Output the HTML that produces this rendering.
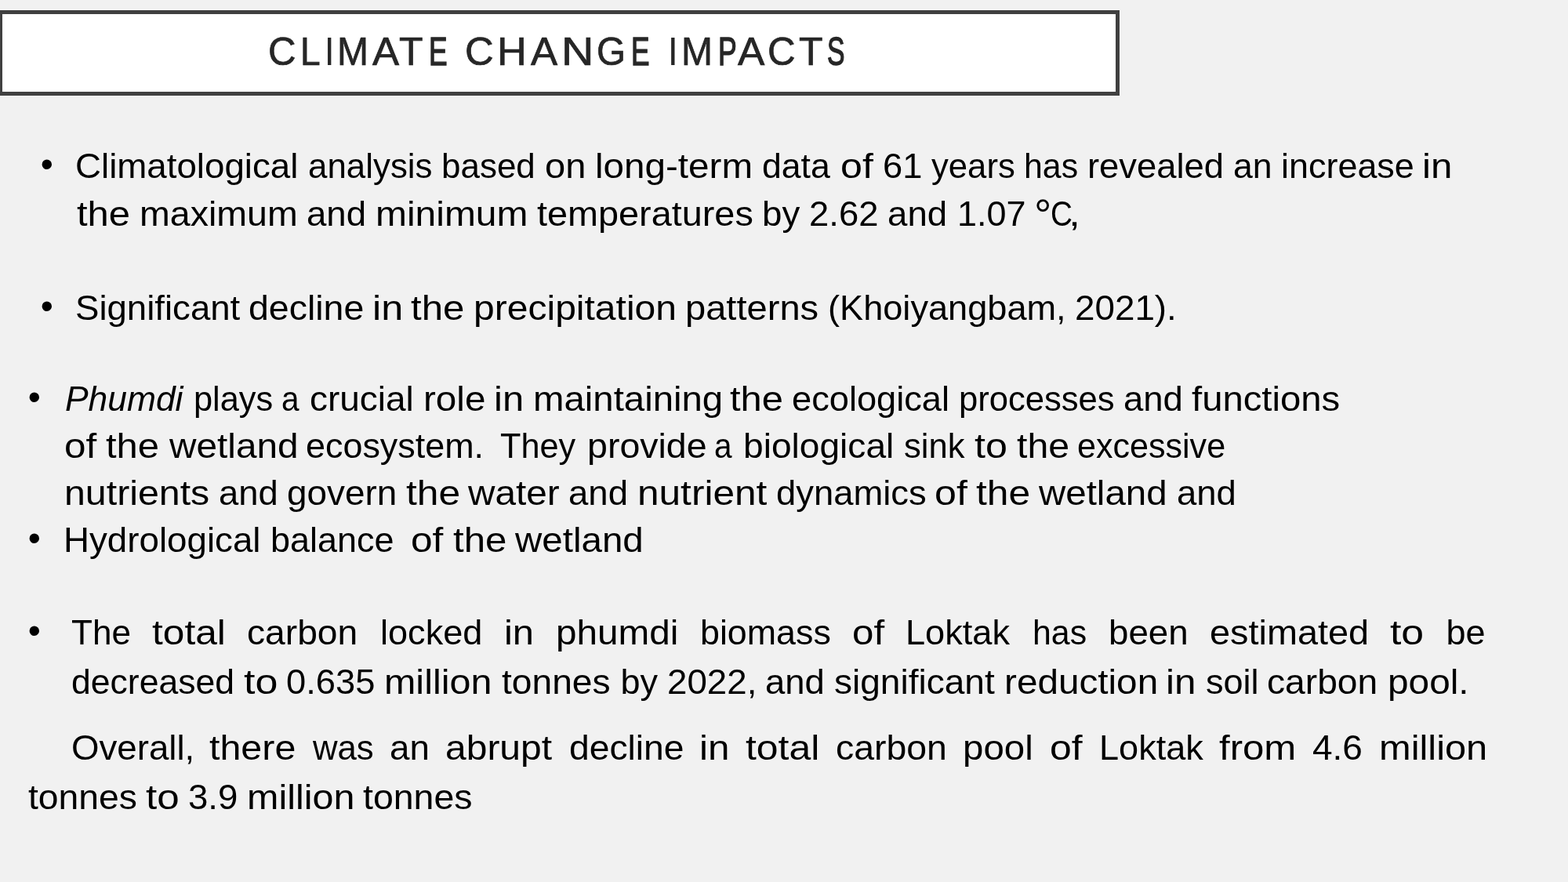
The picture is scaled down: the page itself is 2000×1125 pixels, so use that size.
<!DOCTYPE html>
<html lang="en"><head><meta charset="utf-8"><title>Climate Change Impacts</title>
<style>
html,body{margin:0;padding:0}
body{width:2000px;height:1125px;background:#f1f1f1;position:relative;overflow:hidden;font-family:"Liberation Sans",sans-serif;font-size:45.0px;color:#000;font-kerning:normal}
#titlebox{position:absolute;left:-2px;top:13px;width:1420px;height:99px;border:5px solid #404040;background:#fff;box-shadow:0 -1px 0 #f9f9f9,1px 0 0 #f5f5f5}
#title{position:absolute;left:0;top:0;margin:0;font-weight:normal;font-size:49px;color:#262626;-webkit-text-stroke:0.7px #262626}
#title span{position:absolute;white-space:pre;line-height:0;height:0;transform-origin:0 0}
.l{position:absolute;left:0;height:0;width:2000px;margin:0}
.w{position:absolute;top:0;white-space:pre;line-height:0;height:0;transform-origin:0 0}
.bu{font-size:46px}

</style></head>
<body>
<div id="titlebox"></div>
<h1 id="title" style="font-size:49.70px;top:65.53px"><span style="left:342.42px;transform:scaleX(0.9912)">C</span><span style="left:383.45px;transform:scaleX(0.9281)">L</span><span style="left:413.54px;transform:scaleX(0.8910);-webkit-text-stroke-width:0.2px">I</span><span style="left:430.16px;transform:scaleX(0.9669)">M</span><span style="left:475.13px;transform:scaleX(1.0305)">A</span><span style="left:509.24px;transform:scaleX(1.0052)">T</span><span style="left:546.61px;transform:scaleX(0.7121);-webkit-text-stroke-width:1.4px">E</span> <span style="left:592.95px;transform:scaleX(1.0238)">C</span><span style="left:633.99px;transform:scaleX(1.0537)">H</span><span style="left:677.23px;transform:scaleX(1.0305)">A</span><span style="left:715.71px;transform:scaleX(1.1556)">N</span><span style="left:761.18px;transform:scaleX(0.9581)">G</span><span style="left:804.77px;transform:scaleX(0.7103);-webkit-text-stroke-width:1.4px">E</span> <span style="left:852.36px;transform:scaleX(0.9096);-webkit-text-stroke-width:0.2px">I</span><span style="left:869.16px;transform:scaleX(0.9669)">M</span><span style="left:915.75px;transform:scaleX(0.7168);-webkit-text-stroke-width:1.4px">P</span><span style="left:941.13px;transform:scaleX(1.0365)">A</span><span style="left:978.61px;transform:scaleX(0.9927)">C</span><span style="left:1019.24px;transform:scaleX(1.0052)">T</span><span style="left:1054.52px;transform:scaleX(0.6790);-webkit-text-stroke-width:1.4px">S</span></h1>
<p class="l" id="l0" style="top:211.71px">
<span class="w bu" style="left:51.85px;top:-2.51px">•</span>
<span class="w" style="left:96.42px;transform:scaleX(1.0152)">Climatological</span>
<span class="w" style="left:392.70px;transform:scaleX(0.9750)">analysis</span>
<span class="w" style="left:563.18px;transform:scaleX(0.9769)">based</span>
<span class="w" style="left:694.51px;transform:scaleX(1.0455)">on</span>
<span class="w" style="left:758.67px;transform:scaleX(1.0580)">long-term</span>
<span class="w" style="left:971.50px;transform:scaleX(0.9914)">data</span>
<span class="w" style="left:1071.53px;transform:scaleX(1.1145)">of</span>
<span class="w" style="left:1126.09px;transform:scaleX(1.0065)">61</span>
<span class="w" style="left:1187.78px;transform:scaleX(0.9700)">years</span>
<span class="w" style="left:1306.46px;transform:scaleX(0.9516)">has</span>
<span class="w" style="left:1386.53px;transform:scaleX(1.0085)">revealed</span>
<span class="w" style="left:1573.19px;transform:scaleX(0.9905)">an</span>
<span class="w" style="left:1634.06px;transform:scaleX(0.9984)">increase</span>
<span class="w" style="left:1813.70px;transform:scaleX(1.0955)">in</span>
</p>
<p class="l" id="l1" style="top:272.71px">
<span class="w" style="left:98.20px;transform:scaleX(1.0877)">the</span>
<span class="w" style="left:177.86px;transform:scaleX(1.0346)">maximum</span>
<span class="w" style="left:391.07px;transform:scaleX(1.0134)">and</span>
<span class="w" style="left:479.02px;transform:scaleX(1.0654)">minimum</span>
<span class="w" style="left:685.36px;transform:scaleX(1.0402)">temperatures</span>
<span class="w" style="left:971.84px;transform:scaleX(1.0150)">by</span>
<span class="w" style="left:1031.58px;transform:scaleX(1.0093)">2.62</span>
<span class="w" style="left:1131.86px;transform:scaleX(1.0141)">and</span>
<span class="w" style="left:1221.20px;transform:scaleX(0.9990)">1.07</span>
<span class="w x" style="left:1319px;top:1.6px;font-size:56px">°</span><span class="w x" style="left:1339.8px;transform:scaleX(0.861)">C</span><span class="w x" style="left:1362.9px;transform:scaleX(1.2)">,</span>
</p>
<p class="l" id="l2" style="top:392.71px">
<span class="w bu" style="left:51.85px;top:-2.61px">•</span>
<span class="w" style="left:95.96px;transform:scaleX(1.0126)">Significant</span>
<span class="w" style="left:317.36px;transform:scaleX(1.0327)">decline</span>
<span class="w" style="left:474.52px;transform:scaleX(1.1196)">in</span>
<span class="w" style="left:524.42px;transform:scaleX(1.0928)">the</span>
<span class="w" style="left:603.95px;transform:scaleX(1.0676)">precipitation</span>
<span class="w" style="left:874.31px;transform:scaleX(1.0462)">patterns</span>
<span class="w" style="left:1056.23px;transform:scaleX(1.0032)">(Khoiyangbam,</span>
<span class="w" style="left:1370.70px;transform:scaleX(1.0173)">2021).</span>
</p>
<p class="l" id="l3" style="top:508.71px">
<span class="w bu" style="left:35.85px;top:-2.51px">•</span>
<span class="w" style="left:82.50px;transform:scaleX(0.9862)"><i>Phumdi</i></span>
<span class="w" style="left:246.80px;transform:scaleX(0.9636)">plays</span>
<span class="w" style="left:359.29px;transform:scaleX(0.9000)">a</span>
<span class="w" style="left:394.57px;transform:scaleX(1.0213)">crucial</span>
<span class="w" style="left:539.98px;transform:scaleX(1.0582)">role</span>
<span class="w" style="left:629.66px;transform:scaleX(1.0883)">in</span>
<span class="w" style="left:680.28px;transform:scaleX(1.0524)">maintaining</span>
<span class="w" style="left:930.66px;transform:scaleX(1.0855)">the</span>
<span class="w" style="left:1010.13px;transform:scaleX(1.0045)">ecological</span>
<span class="w" style="left:1223.04px;transform:scaleX(0.9685)">processes</span>
<span class="w" style="left:1432.91px;transform:scaleX(1.0105)">and</span>
<span class="w" style="left:1519.95px;transform:scaleX(1.0506)">functions</span>
</p>
<p class="l" id="l4" style="top:568.71px">
<span class="w" style="left:81.64px;transform:scaleX(1.0988)">of</span>
<span class="w" style="left:135.40px;transform:scaleX(1.0869)">the</span>
<span class="w" style="left:215.52px;transform:scaleX(1.0607)">wetland</span>
<span class="w" style="left:389.67px;transform:scaleX(0.9979)">ecosystem.</span>
<span class="w" style="left:637.82px;transform:scaleX(0.9609)">They</span>
<span class="w" style="left:748.58px;transform:scaleX(1.0342)">provide</span>
<span class="w" style="left:910.65px;transform:scaleX(0.9000)">a</span>
<span class="w" style="left:947.86px;transform:scaleX(1.0248)">biological</span>
<span class="w" style="left:1153.17px;transform:scaleX(0.9687)">sink</span>
<span class="w" style="left:1243.33px;transform:scaleX(1.1160)">to</span>
<span class="w" style="left:1297.25px;transform:scaleX(1.0711)">the</span>
<span class="w" style="left:1374.15px;transform:scaleX(0.9571)">excessive</span>
</p>
<p class="l" id="l5" style="top:628.71px">
<span class="w" style="left:81.78px;transform:scaleX(1.0731)">nutrients</span>
<span class="w" style="left:278.68px;transform:scaleX(1.0086)">and</span>
<span class="w" style="left:366.11px;transform:scaleX(1.0199)">govern</span>
<span class="w" style="left:517.52px;transform:scaleX(1.1043)">the</span>
<span class="w" style="left:597.06px;transform:scaleX(1.0609)">water</span>
<span class="w" style="left:725.02px;transform:scaleX(1.0122)">and</span>
<span class="w" style="left:812.77px;transform:scaleX(1.1011)">nutrient</span>
<span class="w" style="left:990.38px;transform:scaleX(1.0087)">dynamics</span>
<span class="w" style="left:1191.92px;transform:scaleX(1.1150)">of</span>
<span class="w" style="left:1245.40px;transform:scaleX(1.1043)">the</span>
<span class="w" style="left:1324.94px;transform:scaleX(1.0544)">wetland</span>
<span class="w" style="left:1500.93px;transform:scaleX(1.0105)">and</span>
</p>
<p class="l" id="l6" style="top:688.71px">
<span class="w bu" style="left:35.85px;top:-2.51px">•</span>
<span class="w" style="left:80.90px;transform:scaleX(1.0155)">Hydrological</span>
<span class="w" style="left:345.03px;transform:scaleX(0.9994)">balance</span>
<span class="w" style="left:524.40px;transform:scaleX(1.1031)">of</span>
<span class="w" style="left:577.67px;transform:scaleX(1.0928)">the</span>
<span class="w" style="left:657.38px;transform:scaleX(1.0559)">wetland</span>
</p>
<p class="l" id="l7" style="top:806.71px">
<span class="w bu" style="left:35.85px;top:-2.51px">•</span>
<span class="w" style="left:90.54px;transform:scaleX(0.9793)">The</span>
<span class="w" style="left:194.26px;transform:scaleX(1.1025)">total</span>
<span class="w" style="left:315.43px;transform:scaleX(1.0266)">carbon</span>
<span class="w" style="left:485.48px;transform:scaleX(1.0018)">locked</span>
<span class="w" style="left:642.59px;transform:scaleX(1.0874)">in</span>
<span class="w" style="left:708.50px;transform:scaleX(1.0595)">phumdi</span>
<span class="w" style="left:892.78px;transform:scaleX(0.9955)">biomass</span>
<span class="w" style="left:1087.02px;transform:scaleX(1.0950)">of</span>
<span class="w" style="left:1154.93px;transform:scaleX(1.0035)">Loktak</span>
<span class="w" style="left:1316.54px;transform:scaleX(0.9525)">has</span>
<span class="w" style="left:1413.76px;transform:scaleX(1.0149)">been</span>
<span class="w" style="left:1542.62px;transform:scaleX(1.0407)">estimated</span>
<span class="w" style="left:1773.37px;transform:scaleX(1.1497)">to</span>
<span class="w" style="left:1844.59px;transform:scaleX(1.0000)">be</span>
</p>
<p class="l" id="l8" style="top:869.71px">
<span class="w" style="left:90.89px;transform:scaleX(0.9896)">decreased</span>
<span class="w" style="left:311.09px;transform:scaleX(1.1557)">to</span>
<span class="w" style="left:364.67px;transform:scaleX(1.0069)">0.635</span>
<span class="w" style="left:490.35px;transform:scaleX(1.0769)">million</span>
<span class="w" style="left:639.66px;transform:scaleX(1.0259)">tonnes</span>
<span class="w" style="left:791.46px;transform:scaleX(1.0000)">by</span>
<span class="w" style="left:850.73px;transform:scaleX(1.0157)">2022,</span>
<span class="w" style="left:975.84px;transform:scaleX(1.0097)">and</span>
<span class="w" style="left:1064.21px;transform:scaleX(1.0231)">significant</span>
<span class="w" style="left:1280.93px;transform:scaleX(1.0596)">reduction</span>
<span class="w" style="left:1487.46px;transform:scaleX(1.0977)">in</span>
<span class="w" style="left:1538.08px;transform:scaleX(1.0009)">soil</span>
<span class="w" style="left:1616.48px;transform:scaleX(1.0258)">carbon</span>
<span class="w" style="left:1770.27px;transform:scaleX(1.0616)">pool.</span>
</p>
<p class="l" id="l9" style="top:953.71px">
<span class="w" style="left:90.79px;transform:scaleX(1.0144)">Overall,</span>
<span class="w" style="left:267.02px;transform:scaleX(1.0755)">there</span>
<span class="w" style="left:398.91px;transform:scaleX(0.9712)">was</span>
<span class="w" style="left:497.12px;transform:scaleX(1.0160)">an</span>
<span class="w" style="left:568.22px;transform:scaleX(1.0664)">abrupt</span>
<span class="w" style="left:725.53px;transform:scaleX(1.0270)">decline</span>
<span class="w" style="left:892.30px;transform:scaleX(1.0977)">in</span>
<span class="w" style="left:950.78px;transform:scaleX(1.1090)">total</span>
<span class="w" style="left:1065.56px;transform:scaleX(1.0310)">carbon</span>
<span class="w" style="left:1228.26px;transform:scaleX(1.0541)">pool</span>
<span class="w" style="left:1339.22px;transform:scaleX(1.1091)">of</span>
<span class="w" style="left:1401.68px;transform:scaleX(1.0023)">Loktak</span>
<span class="w" style="left:1555.07px;transform:scaleX(1.0917)">from</span>
<span class="w" style="left:1674.31px;transform:scaleX(1.0223)">4.6</span>
<span class="w" style="left:1758.65px;transform:scaleX(1.0839)">million</span>
</p>
<p class="l" id="l10" style="top:1016.71px">
<span class="w" style="left:36.00px;transform:scaleX(1.0280)">tonnes</span>
<span class="w" style="left:186.12px;transform:scaleX(1.1366)">to</span>
<span class="w" style="left:239.76px;transform:scaleX(1.0134)">3.9</span>
<span class="w" style="left:314.58px;transform:scaleX(1.0772)">million</span>
<span class="w" style="left:463.45px;transform:scaleX(1.0329)">tonnes</span>
</p>
</body></html>
